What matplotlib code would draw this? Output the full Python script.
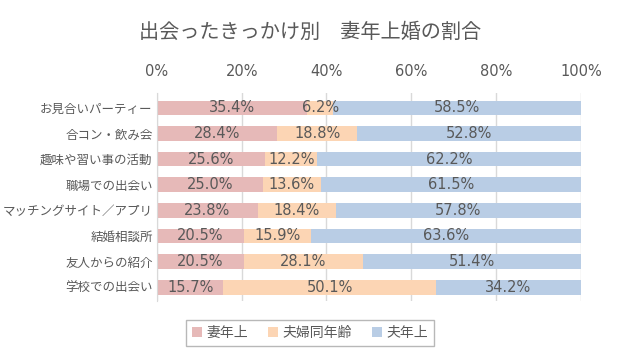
import matplotlib
matplotlib.use("Agg")
import matplotlib.pyplot as plt
import numpy as np

plt.rcParams['font.family'] = ['Noto Sans CJK JP', 'DejaVu Sans']

# === データ ===
categories = ["お見合いパーティー", "合コン・飲み会", "趣味や習い事の活動", "職場での出会い",
              "マッチングサイト／アプリ", "結婚相談所", "友人からの紹介", "学校での出会い"]
tsuma_ue = [35.4, 28.4, 25.6, 25.0, 23.8, 20.5, 20.5, 15.7]
dounen = [6.2, 18.8, 12.2, 13.6, 18.4, 15.9, 28.1, 50.1]
otto_ue = [58.5, 52.8, 62.2, 61.5, 57.8, 63.6, 51.4, 34.2]
series_names = ["妻年上", "夫婦同年齢", "夫年上"]
colors = ["#E6B9B8", "#FCD5B4", "#B9CDE5"]
text_color = "#595959"

fig = plt.figure(figsize=(6.2, 3.6), dpi=100)
ax = fig.add_axes([0.253, 0.163, 0.684, 0.58])

y = np.arange(len(categories))
left = np.zeros(len(categories))
for vals, name, c in zip([tsuma_ue, dounen, otto_ue], series_names, colors):
    vals = np.array(vals)
    bars = ax.barh(y, vals, left=left, height=0.57, color=c, label=name, zorder=2)
    ax.bar_label(bars, labels=[f"{v:.1f}%" for v in vals], label_type='center',
                 color=text_color, fontsize=10.5, family=['DejaVu Sans'])
    left = left + vals

ax.set_xlim(0, 100)
ax.set_ylim(len(categories) - 0.5 + 0.05, -0.6)
ax.set_yticks(y)
ax.set_yticklabels(categories, fontsize=9, color=text_color)
ax.set_xticks(np.arange(0, 101, 20))
ax.set_xticklabels([f"{v}%" for v in range(0, 101, 20)], fontsize=10.5, color=text_color,
                   family=['DejaVu Sans'])
ax.xaxis.tick_top()
ax.tick_params(axis='x', length=0, pad=10)
ax.tick_params(axis='y', length=0, pad=3)
ax.grid(axis='x', color="#D9D9D9", linewidth=1, zorder=0)
for s in ['top', 'right', 'bottom']:
    ax.spines[s].set_visible(False)
ax.spines['left'].set_color("#D9D9D9")

fig.suptitle("出会ったきっかけ別　妻年上婚の割合", x=0.5, y=0.94, fontsize=14.5, color=text_color)

leg = fig.legend(loc='center', bbox_to_anchor=(0.5, 0.075), ncol=3, frameon=True,
                 fontsize=10, handlelength=0.7, handleheight=0.7, handletextpad=0.3,
                 columnspacing=1.5, fancybox=False, edgecolor="#A6A6A6")
for t in leg.get_texts():
    t.set_color(text_color)

fig.savefig("out.png", dpi=100)
